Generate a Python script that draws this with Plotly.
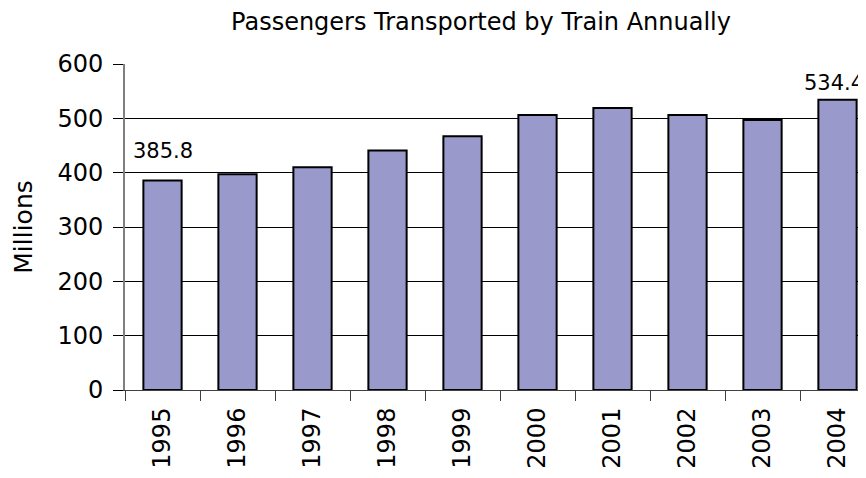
import plotly.graph_objects as go

years = ["1995", "1996", "1997", "1998", "1999", "2000", "2001", "2002", "2003", "2004"]
passengers = [385.8, 397, 410, 441, 467, 506, 519, 506, 497, 534.4]
labelled_years = ["1995", "2004"]
label_shifts = [29, 17]
label_xshifts = [0, -4]
y_ticks = [0, 100, 200, 300, 400, 500, 600]

FONT = "DejaVu Sans, Liberation Sans, Arial, sans-serif"
FIG_W, FIG_H = 858, 470  # page body has an 8px margin in an 866x478 window

fig = go.Figure()
fig.add_trace(go.Bar(
    x=years, y=passengers,
    width=0.51,
    marker=dict(color="#9999CC", line=dict(color="#000000", width=2)),
    hoverinfo="x+y",
))

for yr, sh, xs in zip(labelled_years, label_shifts, label_xshifts):
    i = years.index(yr)
    v = passengers[i]
    fig.add_annotation(x=i, y=v, xref="x", yref="y", text=f"{v:.1f}",
                       showarrow=False, yanchor="middle", xanchor="center",
                       yshift=sh, xshift=xs,
                       font=dict(family=FONT, size=21, color="#000000"))

fig.update_layout(
    width=FIG_W, height=FIG_H, autosize=False,
    margin=dict(l=117, r=0, t=56, b=88, pad=0),
    paper_bgcolor="white", plot_bgcolor="white",
    showlegend=False,
    title=dict(text="Passengers Transported by Train Annually",
               x=473 / FIG_W, xanchor="center", xref="container",
               y=1 - 14 / FIG_H, yanchor="middle", yref="container",
               font=dict(family=FONT, size=24, color="#000000")),
    font=dict(family=FONT, color="#000000"),
)
fig.update_xaxes(
    type="category", range=[-0.5, 9.38],
    tickangle=-90, tickfont=dict(family=FONT, size=24, color="#000000"),
    ticks="outside", ticklen=10, tickcolor="#404040", tickwidth=1,
    tickson="boundaries", ticklabelstandoff=7,
    showline=True, linecolor="#404040", linewidth=1,
    showgrid=False,
)
fig.update_yaxes(
    range=[0, 600], tickvals=y_ticks,
    tickfont=dict(family=FONT, size=24, color="#000000"),
    ticks="outside", ticklen=10, tickcolor="#000000", tickwidth=1,
    ticklabelstandoff=5,
    showline=True, linecolor="#808080", linewidth=2,
    showgrid=True, gridcolor="#000000", gridwidth=1,
    zeroline=False,
    title=dict(text="Millions", font=dict(family=FONT, size=25, color="#000000"), standoff=18),
)

fig.write_html("out.html")
